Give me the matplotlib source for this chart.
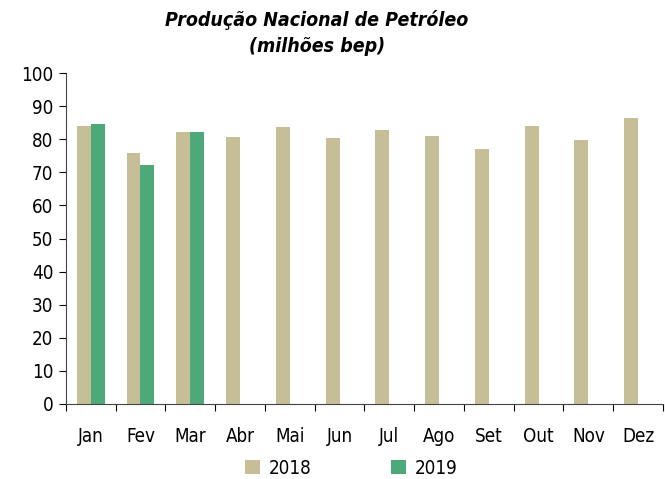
import numpy as np
import matplotlib.pyplot as plt

plt.rcParams['font.family'] = ['DejaVu Sans']
plt.rcParams['font.stretch'] = 'condensed'

meses = ['Jan', 'Fev', 'Mar', 'Abr', 'Mai', 'Jun', 'Jul', 'Ago', 'Set', 'Out', 'Nov', 'Dez']
prod_2018 = [84.0, 75.8, 82.2, 80.7, 83.7, 80.4, 82.7, 81.0, 77.2, 84.0, 79.8, 86.4]
prod_2019 = [84.6, 72.2, 82.2]

fig = plt.figure(figsize=(6.65, 4.79), dpi=100)
ax = fig.add_axes([0.099, 0.157, 0.898, 0.69])

x = np.arange(len(meses))
w = 0.28
ax.bar(np.arange(len(prod_2019)) + w / 2, prod_2019, w,
       color='#4EA97A', label='2019', zorder=2)
ax.bar(x - w / 2, prod_2018, w, color='#C5BE97', label='2018', zorder=2)

ax.set_xlim(-0.5, len(meses) - 0.5)
ax.set_ylim(0, 100)
ax.set_yticks(range(0, 101, 10))
ax.tick_params(axis='y', labelsize=13.5, length=5, direction='out', pad=4)

ax.set_xticks(np.arange(-0.5, len(meses), 1))
ax.set_xticklabels([])
ax.set_xticks(x, minor=True)
ax.set_xticklabels(meses, minor=True, fontsize=13.5)
ax.tick_params(axis='x', which='major', length=5, direction='out')
ax.tick_params(axis='x', which='minor', length=0, pad=17)

for s in ['top', 'right']:
    ax.spines[s].set_visible(False)
for s in ['left', 'bottom']:
    ax.spines[s].set_color('#444444')

ax.set_title('Produção Nacional de Petróleo\n(milhões bep)', fontsize=14,
             fontweight='bold', style='italic', linespacing=1.5, pad=15, x=0.42)

h, l = ax.get_legend_handles_labels()
ax.legend([h[1], h[0]], [l[1], l[0]], loc='upper center', bbox_to_anchor=(0.478, -0.115),
          ncol=2, frameon=False, fontsize=13.5, handlelength=0.8, handleheight=0.8,
          columnspacing=4.2, handletextpad=0.5)

fig.savefig('out.png', dpi=100)
